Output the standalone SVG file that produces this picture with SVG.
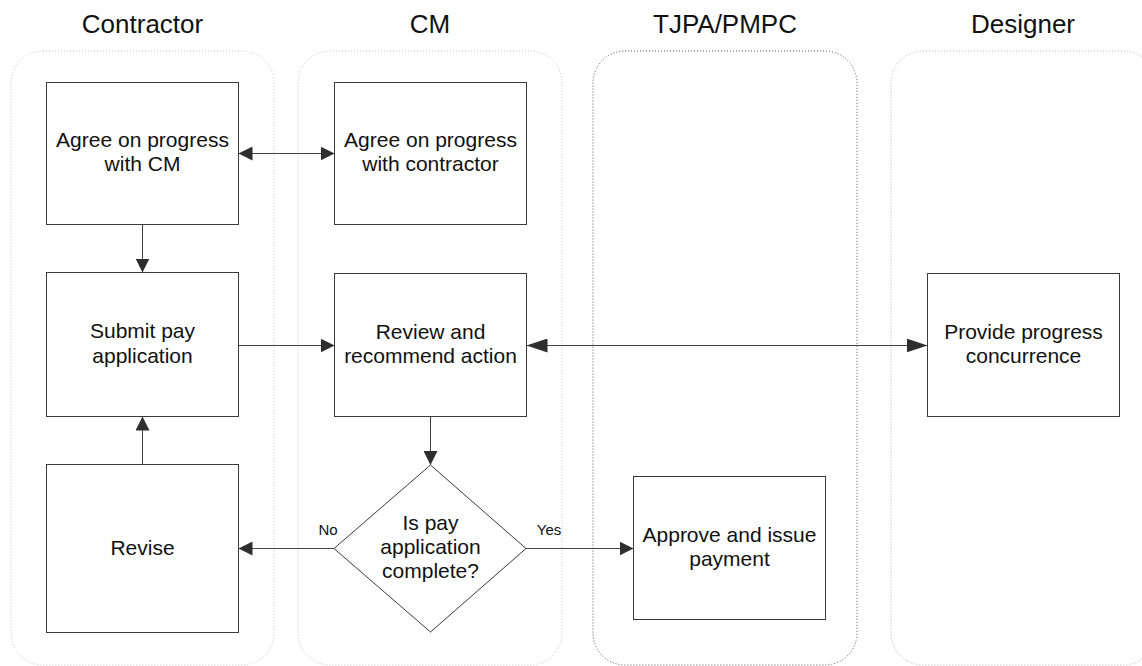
<svg xmlns="http://www.w3.org/2000/svg" width="1142" height="666" viewBox="0 0 1142 666">
  <defs>
    <style>
      .lane { fill: none; stroke-width: 1; stroke-dasharray: 1 2; }
      .lane-light { stroke: #c4c4c4; }
      .lane-mid { stroke: #b0b0b0; }
      .lane-dark { stroke: #555555; }
      .hdr { font-family: "Liberation Sans", Arial, sans-serif; font-size: 26px; fill: #111; text-anchor: middle; }
      .box { fill: #ffffff; stroke: #3a3a3a; stroke-width: 1; }
      .lbl { font-family: "Liberation Sans", Arial, sans-serif; font-size: 21px; fill: #111; text-anchor: middle; }
      .edge-lbl { font-family: "Liberation Sans", Arial, sans-serif; font-size: 15px; fill: #111; text-anchor: middle; }
      .conn { fill: none; stroke: #444444; stroke-width: 1; }
    </style>
    <marker id="arrow" markerUnits="userSpaceOnUse" markerWidth="15" markerHeight="14" refX="14" refY="7" orient="auto-start-reverse">
      <path d="M0,0 L14,7 L0,14 Z" fill="#2e2e2e"/>
    </marker>
    <marker id="arrow-long" markerUnits="userSpaceOnUse" markerWidth="22" markerHeight="14" refX="21" refY="7" orient="auto-start-reverse">
      <path d="M0,0 L21,7 L0,14 Z" fill="#2e2e2e"/>
    </marker>
  </defs>

  <!-- swimlanes -->
  <g id="lanes">
    <rect class="lane lane-light" x="11" y="51" width="263" height="614" rx="32" ry="32"/>
    <rect class="lane lane-light" x="298" y="51" width="264" height="614" rx="32" ry="32"/>
    <rect class="lane lane-dark" x="593" y="51" width="264" height="614" rx="32" ry="32"/>
    <rect class="lane lane-mid" x="891" y="51" width="264" height="614" rx="32" ry="32"/>
  </g>

  <g id="headers">
    <text class="hdr" x="142.5" y="33">Contractor</text>
    <text class="hdr" x="430" y="33">CM</text>
    <text class="hdr" x="725" y="33">TJPA/PMPC</text>
    <text class="hdr" x="1023" y="33">Designer</text>
  </g>

  <!-- connectors -->
  <g id="connectors">
    <line class="conn" x1="238.5" y1="153.5" x2="334.5" y2="153.5" marker-start="url(#arrow)" marker-end="url(#arrow)"/>
    <line class="conn" x1="142.5" y1="224.5" x2="142.5" y2="272.5" marker-end="url(#arrow)"/>
    <line class="conn" x1="238.5" y1="345.5" x2="334.5" y2="345.5" marker-end="url(#arrow)"/>
    <line class="conn" x1="526.5" y1="345.5" x2="927.5" y2="345.5" marker-start="url(#arrow-long)" marker-end="url(#arrow-long)"/>
    <line class="conn" x1="430.5" y1="416.5" x2="430.5" y2="465" marker-end="url(#arrow)"/>
    <line class="conn" x1="334" y1="548.5" x2="238.5" y2="548.5" marker-end="url(#arrow)"/>
    <line class="conn" x1="526" y1="548.5" x2="633.5" y2="548.5" marker-end="url(#arrow)"/>
    <line class="conn" x1="142.5" y1="464.5" x2="142.5" y2="416.5" marker-end="url(#arrow)"/>
    <text class="edge-lbl" x="328" y="535">No</text>
    <text class="edge-lbl" x="549" y="535">Yes</text>
  </g>

  <g id="agree-contractor">
    <rect class="box" x="46.5" y="82.5" width="192" height="142"/>
    <text class="lbl" x="142.5" y="147">Agree on progress</text>
    <text class="lbl" x="142.5" y="171">with CM</text>
  </g>

  <g id="agree-cm">
    <rect class="box" x="334.5" y="82.5" width="192" height="142"/>
    <text class="lbl" x="430.5" y="147">Agree on progress</text>
    <text class="lbl" x="430.5" y="171">with contractor</text>
  </g>

  <g id="submit">
    <rect class="box" x="46.5" y="272.5" width="192" height="144"/>
    <text class="lbl" x="142.5" y="338">Submit pay</text>
    <text class="lbl" x="142.5" y="363">application</text>
  </g>

  <g id="review">
    <rect class="box" x="334.5" y="273.5" width="192" height="143"/>
    <text class="lbl" x="430.5" y="339">Review and</text>
    <text class="lbl" x="430.5" y="363">recommend action</text>
  </g>

  <g id="concurrence">
    <rect class="box" x="927.5" y="273.5" width="192" height="143"/>
    <text class="lbl" x="1023.5" y="339">Provide progress</text>
    <text class="lbl" x="1023.5" y="363">concurrence</text>
  </g>

  <g id="complete-check">
    <polygon class="box" points="430.5,465 526,548.5 430.5,632 334,548.5"/>
    <text class="lbl" x="430.5" y="530">Is pay</text>
    <text class="lbl" x="430.5" y="554">application</text>
    <text class="lbl" x="430.5" y="578">complete?</text>
  </g>

  <g id="revise">
    <rect class="box" x="46.5" y="464.5" width="192" height="168"/>
    <text class="lbl" x="142.5" y="555">Revise</text>
  </g>

  <g id="approve">
    <rect class="box" x="633.5" y="476.5" width="192" height="143"/>
    <text class="lbl" x="729.5" y="542">Approve and issue</text>
    <text class="lbl" x="729.5" y="566">payment</text>
  </g>
</svg>
